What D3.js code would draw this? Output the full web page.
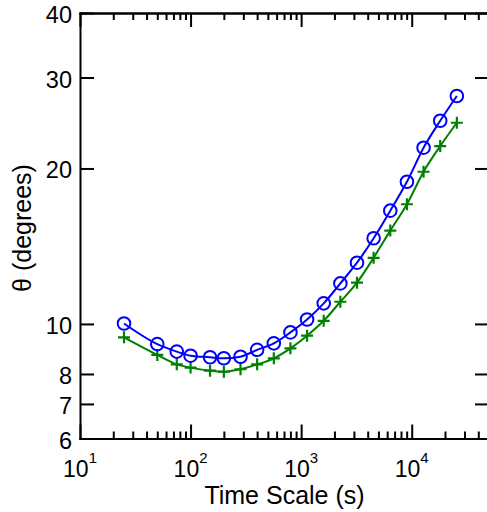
<!DOCTYPE html>
<html>
<head>
<meta charset="utf-8">
<script src="https://cdn.jsdelivr.net/npm/d3@7"></script>
<style>
  body { margin: 0; background: #fff; }
  text { font-family: "Liberation Sans", Arial, Helvetica, sans-serif; fill: #000; }
</style>
</head>
<body>
<script>
// time scales (s)
var timeScale = [25, 50, 75, 100, 150, 200, 283, 400, 566, 800, 1131, 1600,
                 2263, 3200, 4525, 6400, 9051, 12800, 18102, 25600];
// theta (degrees), circle series
var thetaCircle = [10.02, 9.14, 8.84, 8.68, 8.62, 8.58, 8.64, 8.91, 9.17, 9.63,
                   10.2, 10.96, 11.98, 13.14, 14.65, 16.57, 18.85, 21.94, 24.74, 27.63];
// theta (degrees), plus series
var thetaPlus = [9.42, 8.71, 8.35, 8.23, 8.12, 8.08, 8.17, 8.35, 8.58, 8.97,
                 9.49, 10.14, 11.04, 12.02, 13.43, 15.16, 17.05, 19.71, 22.1, 24.52];
var xMajor = [10, 100, 1000, 10000];
var yTicks = [6, 7, 8, 10, 20, 30, 40];

var w = 487, h = 512;
// plot box (note: "top" is a reserved window global, so use p* names)
var pLeft = 80, pRight = 489, pTop = 13, pBottom = 438.5;

var svg = d3.select("body").append("svg")
  .attr("width", w)
  .attr("height", h);

var x = d3.scaleLog().domain([10, 50000]).range([pLeft, pRight]);
var y = d3.scaleLog().domain([6, 40]).range([pBottom, pTop]);

// minor x ticks
var xMinor = [];
xMajor.forEach(function(d) {
  for (var k = 2; k <= 9; k++) if (d * k <= 50000) xMinor.push(d * k);
});

function styleAxis(g) {
  g.selectAll("path, line").attr("stroke", "#000").attr("stroke-width", 2);
  g.select(".domain").attr("stroke-linecap", "square");
}

//// axes
svg.append("g").attr("transform", "translate(0," + pBottom + ")")
  .call(d3.axisBottom(x).tickValues(xMinor).tickSize(-7).tickSizeOuter(0).tickFormat(""))
  .call(styleAxis);
svg.append("g").attr("transform", "translate(0," + pBottom + ")")
  .call(d3.axisBottom(x).tickValues(xMajor).tickSize(-14).tickSizeOuter(0).tickFormat(""))
  .call(styleAxis);
svg.append("g").attr("transform", "translate(0," + pTop + ")")
  .call(d3.axisTop(x).tickValues(xMinor).tickSize(-7).tickSizeOuter(0).tickFormat(""))
  .call(styleAxis);
svg.append("g").attr("transform", "translate(0," + pTop + ")")
  .call(d3.axisTop(x).tickValues(xMajor).tickSize(-14).tickSizeOuter(0).tickFormat(""))
  .call(styleAxis);
svg.append("g").attr("transform", "translate(" + pLeft + ",0)")
  .call(d3.axisLeft(y).tickValues(yTicks).tickSize(-14).tickSizeOuter(0).tickFormat(""))
  .call(styleAxis);
svg.append("g").attr("transform", "translate(" + pRight + ",0)")
  .call(d3.axisRight(y).tickValues(yTicks).tickSize(-14).tickSizeOuter(0).tickFormat(""))
  .call(styleAxis);

//// tick labels
svg.selectAll("text.ylab")
  .data(yTicks)
  .enter()
  .append("text")
  .attr("class", "ylab")
  .attr("x", pLeft - 8)
  .attr("y", function(d) { return y(d) + 10; })
  .attr("text-anchor", "end")
  .attr("font-size", "23.5px")
  .text(function(d) { return d; });

var xl = svg.selectAll("text.xlab")
  .data(xMajor)
  .enter()
  .append("text")
  .attr("class", "xlab")
  .attr("x", function(d) { return x(d); })
  .attr("y", 476.5)
  .attr("text-anchor", "middle")
  .attr("font-size", "23px");
xl.append("tspan").text("10");
xl.append("tspan")
  .attr("font-size", "15px")
  .attr("dy", -14)
  .text(function(d) { return Math.round(Math.log10(d)); });

//// axis titles
svg.append("text")
  .attr("x", (pLeft + pRight) / 2)
  .attr("y", 504)
  .attr("text-anchor", "middle")
  .attr("font-size", "25px")
  .text("Time Scale (s)");

svg.append("text")
  .attr("transform", "translate(31," + 228 + ") rotate(-90)")
  .attr("text-anchor", "middle")
  .attr("font-size", "25px")
  .text("θ (degrees)");

//// lines
var line = d3.line()
  .x(function(d) { return x(d[0]); })
  .y(function(d) { return y(d[1]); })
  .curve(d3.curveMonotoneX);

var plusData = d3.zip(timeScale, thetaPlus);
var circData = d3.zip(timeScale, thetaCircle);

svg.append("path")
  .datum(plusData)
  .attr("d", line)
  .attr("fill", "none")
  .attr("stroke", "#008000")
  .attr("stroke-width", 2);

svg.append("path")
  .datum(circData)
  .attr("d", line)
  .attr("fill", "none")
  .attr("stroke", "#0000ff")
  .attr("stroke-width", 2);

//// markers
var ps = 6;
svg.selectAll("path.plus")
  .data(plusData)
  .enter()
  .append("path")
  .attr("class", "plus")
  .attr("d", function(d) {
    var cx = x(d[0]), cy = y(d[1]);
    return "M" + (cx - ps) + "," + cy + "H" + (cx + ps) +
           "M" + cx + "," + (cy - ps) + "V" + (cy + ps);
  })
  .attr("stroke", "#008000")
  .attr("stroke-width", 2.2);

svg.selectAll("circle.mk")
  .data(circData)
  .enter()
  .append("circle")
  .attr("class", "mk")
  .attr("cx", function(d) { return x(d[0]); })
  .attr("cy", function(d) { return y(d[1]); })
  .attr("r", 6.3)
  .attr("fill", "none")
  .attr("stroke", "#0000ff")
  .attr("stroke-width", 2);
</script>
</body>
</html>
